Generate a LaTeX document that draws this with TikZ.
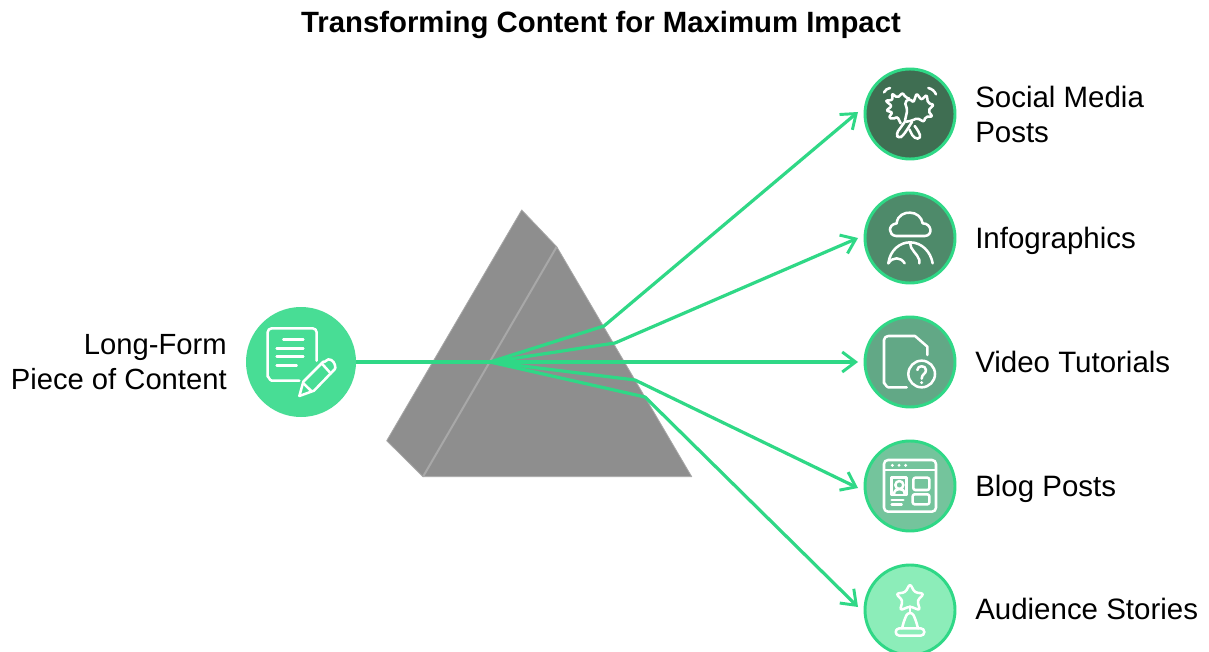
\documentclass[tikz,border=0pt]{standalone}
\usepackage{fontspec}
\setmainfont{Liberation Sans}
\usetikzlibrary{arrows.meta}
\definecolor{ray}{HTML}{2FD886}
\definecolor{prismc}{HTML}{8E8E8E}
\definecolor{prismedge}{HTML}{A8A8A8}
\tikzset{
  x=0.75pt,y=-0.75pt,
  hubc/.style={circle,draw=ray,line width=2.2pt,minimum size=67.5pt,inner sep=0pt},
  lbl/.style={font=\fontsize{22.1}{26.25}\selectfont,text=black,inner sep=0pt},
  rayl/.style={draw=ray,line width=2.4pt,line join=round},
  arr/.style={rayl,-{Straight Barb[length=10pt,width=15pt,line width=2.2pt]}},
  icon/.style={draw=white,line width=1.9pt,line cap=round,line join=round},
  zoomed/.style={x=0.25pt,y=-0.25pt},
}
\begin{document}
\begin{tikzpicture}
\useasboundingbox (0,0) rectangle (1209,652);
\fill[white] (0,0) rectangle (1209,652);
% title
\node[font=\fontsize{22}{26}\selectfont\bfseries,inner sep=0pt,anchor=base] (title) at (601,33) {Transforming Content for Maximum Impact};
% prism
\fill[prismc,draw=prismedge,line width=.6pt,line join=round] (521.7,210) -- (556.7,246.7) -- (691.7,476.7) -- (423,476.7) -- (386.7,440.7) -- cycle;
\draw[prismedge,line width=1.5pt] (556.7,246.7) -- (423,476.7);
% nodes
\node[circle,fill=ray!88!white,draw=none,minimum size=82.5pt,inner sep=0pt] (src) at (301,362) {};
\node[hubc,fill={rgb,255:red,63;green,110;blue,82}] (n1) at (910,114) {};
\node[hubc,fill={rgb,255:red,78;green,138;blue,106}] (n2) at (910,238) {};
\node[hubc,fill={rgb,255:red,98;green,168;blue,134}] (n3) at (910,362) {};
\node[hubc,fill={rgb,255:red,116;green,196;blue,156}] (n4) at (910,486) {};
\node[hubc,fill={rgb,255:red,140;green,237;blue,185}] (n5) at (910,610) {};
% connectors
\coordinate (hub) at (490,362);
\coordinate (b1) at (604,326);
\coordinate (b2) at (615,343);
\coordinate (b4) at (635,380);
\coordinate (b5) at (645,397);
\coordinate (e1) at (858,112);
\coordinate (e2) at (858,238);
\coordinate (e3) at (858,362);
\coordinate (e4) at (858,488);
\coordinate (e5) at (858,607);
\draw[rayl] (src.east) -- (hub);
\draw[arr] (hub) -- (b1) -- (e1);
\draw[arr] (hub) -- (b2) -- (e2);
\draw[arr] (hub) -- (e3);
\draw[arr] (hub) -- (b4) -- (e4);
\draw[arr] (hub) -- (b5) -- (e5);
% labels
\node[lbl,font=\fontsize{21.9}{26.25}\selectfont,align=right,anchor=east] (l0) at (227,362) {Long-Form\\Piece of Content};
\node[lbl,align=left,anchor=west] (l1) at (975,114) {Social Media\\Posts};
\node[lbl,anchor=base west] (l2) at (975,248) {Infographics};
\node[lbl,anchor=base west] (l3) at (975,372) {Video Tutorials};
\node[lbl,anchor=base west] (l4) at (975,496) {Blog Posts};
\node[lbl,anchor=base west] (l5) at (975,619) {Audience Stories};
% icon source
\begin{scope}[shift={(240,300)},zoomed]
\draw[icon] (178,242) -- (95,242) to[out=180,in=90] (83,230) -- (83,97) to[out=90,in=180] (95,85) -- (218,85) to[out=0,in=90] (230,97) -- (230,182);
\draw[icon] (130,118) -- (190,118) (110,145) -- (190,145) (110,170) -- (190,170) (110,197) -- (170,197);
\draw[icon] (178,288) -- (190,245) -- (250,185) to[out=-45,in=180] (265,178) to[out=0,in=90] (286,203) to[out=-90,in=45] (280,212) -- (222,272) -- cycle;
\draw[icon] (190,250) -- (215,274) (245,190) -- (272,220);
\end{scope}
% icon 1
\begin{scope}[shift={(860,60)},zoomed]
\draw[icon] (72,97) to[bend left=25] (90,84) (205,84) to[bend left=25] (228,103);
\draw[icon,rounded corners=1.5pt] (122,190) -- (112,170) -- (98,178) -- (86,172) -- (98,157) -- (78,152) -- (96,138) -- (76,122) -- (98,120) -- (96,100) -- (112,114) -- (128,98) -- (136,112) -- (148,116);
\draw[icon,rounded corners=1.5pt] (134,186) -- (142,150) -- (134,126) -- (150,116) -- (160,128) -- (170,100) -- (184,120) -- (200,104) -- (204,130) -- (222,134) -- (204,152) -- (218,170) -- (196,170) -- (192,186) -- (172,174) -- (156,182) -- cycle;
\draw[icon,rounded corners=2.5pt] (134,186) -- (108,222) -- (116,236) -- (130,226) -- (156,186);
\draw[icon,rounded corners=3pt] (148,208) -- (162,236) -- (184,236) -- (176,214) -- (164,198);
\end{scope}
% icon 2
\begin{scope}[shift={(860,60)},zoomed]
\draw[icon] (108,528) .. controls (85,526) and (82,494) .. (110,490) .. controls (112,465) and (135,457) .. (150,458) .. controls (170,458) and (185,472) .. (188,490) .. controls (215,490) and (220,526) .. (195,528) -- cycle;
\draw[icon] (85,610) .. controls (90,570) and (120,547) .. (150,547) .. controls (185,547) and (212,575) .. (218,610);
\draw[icon] (85,610) .. controls (98,590) and (122,590) .. (134,610);
\draw[icon] (150,548) .. controls (150,570) and (172,580) .. (178,600) -- (178,610);
\end{scope}
% icon 3
\begin{scope}[shift={(860,310)},zoomed]
\draw[icon] (140,232) -- (85,232) to[out=180,in=90] (72,220) -- (72,90) to[out=90,in=180] (85,78) -- (165,78) -- (202,110) -- (202,135);
\draw[icon] (185,192) circle[radius=10pt];
\draw[icon] (172,180) .. controls (172,165) and (198,165) .. (198,180) .. controls (198,192) and (185,192) .. (185,206);
\fill[white] (185,218) circle[radius=1.2pt];
\end{scope}
% icon 4
\begin{scope}[shift={(860,435)},zoomed]
\draw[icon] (84,75) -- (216,75) to[out=0,in=90] (228,87) -- (228,218) to[out=-90,in=0] (216,230) -- (84,230) to[out=180,in=-90] (72,218) -- (72,87) to[out=90,in=180] cycle;
\draw[icon] (72,105) -- (228,105);
\fill[white] (97,91) circle[radius=1.2pt] (117,91) circle[radius=1.2pt] (137,91) circle[radius=1.2pt];
\draw[icon] (95,128) rectangle (140,180);
\draw[icon] (118,150) circle[radius=3pt];
\draw[icon] (102,178) .. controls (102,165) and (112,162) .. (118,162) .. controls (126,162) and (134,165) .. (134,178);
\draw[icon] (95,195) -- (130,195) (95,208) -- (125,208);
\draw[icon,rounded corners=1.5pt] (160,128) rectangle (208,165);
\draw[icon,rounded corners=1.5pt] (158,178) rectangle (208,208);
\end{scope}
% icon 5
\begin{scope}[shift={(860,435)},zoomed]
\draw[icon,rounded corners=2pt] (150,446) -- (164,472) -- (192,476) -- (172,497) -- (180,526) -- (150,514) -- (120,526) -- (128,497) -- (108,476) -- (136,472) -- cycle;
\draw[icon] (150,514) -- (150,533);
\draw[icon,rounded corners=2pt] (126,580) -- (132,558) -- (142,534) -- (158,534) -- (168,558) -- (174,580);
\draw[icon] (118,580) -- (182,580) arc[start angle=90,end angle=-90,radius=2.75pt] -- (118,602) arc[start angle=270,end angle=90,radius=2.75pt];
\end{scope}
\end{tikzpicture}
\end{document}
